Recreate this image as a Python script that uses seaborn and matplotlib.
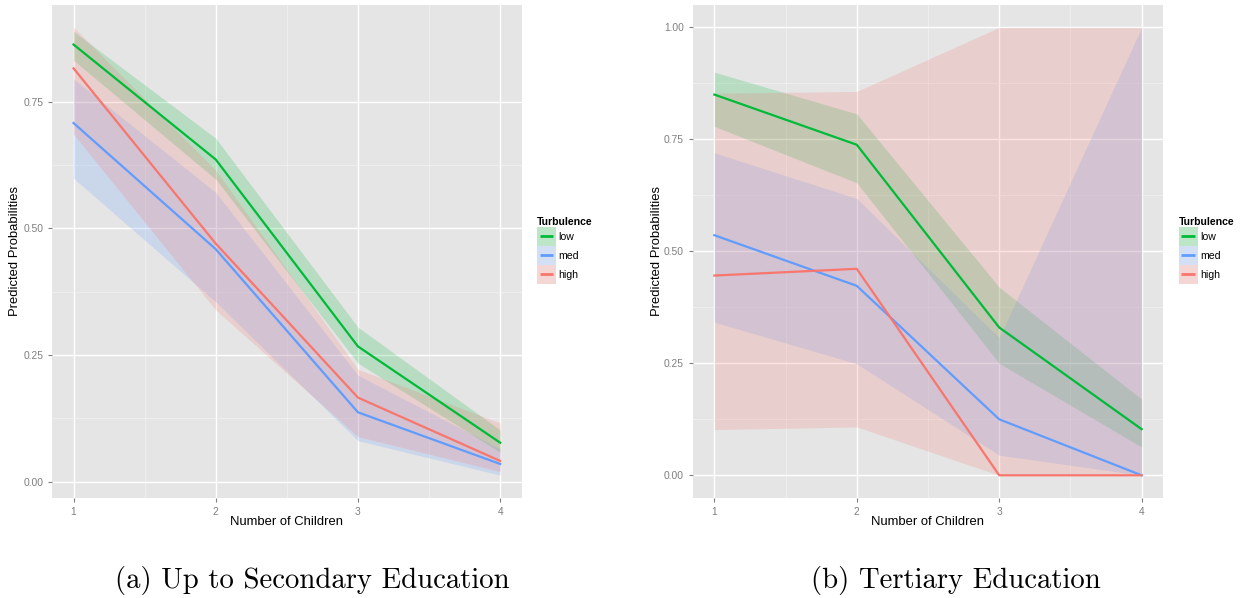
import numpy as np
import pandas as pd
import seaborn as sns
import matplotlib
matplotlib.use("Agg")
import matplotlib.pyplot as plt
from matplotlib.patches import Patch, Rectangle
from matplotlib.lines import Line2D
from matplotlib.legend_handler import HandlerBase
from matplotlib.colors import to_rgb

# ---------------- data ----------------
children = [1, 2, 3, 4]
levels = ["low", "med", "high"]

# (a) Up to Secondary Education
sec_low = [0.863, 0.636, 0.267, 0.077]
sec_low_lo = [0.832, 0.597, 0.234, 0.058]
sec_low_hi = [0.889, 0.678, 0.305, 0.102]
sec_med = [0.708, 0.459, 0.137, 0.035]
sec_med_lo = [0.599, 0.355, 0.081, 0.013]
sec_med_hi = [0.795, 0.571, 0.210, 0.065]
sec_high = [0.816, 0.470, 0.166, 0.041]
sec_high_lo = [0.686, 0.339, 0.089, 0.020]
sec_high_hi = [0.897, 0.615, 0.222, 0.116]

# (b) Tertiary Education
ter_low = [0.850, 0.738, 0.330, 0.103]
ter_low_lo = [0.779, 0.653, 0.250, 0.063]
ter_low_hi = [0.900, 0.807, 0.420, 0.170]
ter_med = [0.536, 0.423, 0.125, 0.0]
ter_med_lo = [0.342, 0.249, 0.045, 0.0]
ter_med_hi = [0.720, 0.618, 0.307, 1.0]
ter_high = [0.446, 0.461, 0.0, 0.0]
ter_high_lo = [0.102, 0.108, 0.0, 0.0]
ter_high_hi = [0.853, 0.857, 1.0, 1.0]

yticks_sec = [0.0, 0.25, 0.50, 0.75]
yticks_ter = [0.0, 0.25, 0.50, 0.75, 1.00]
captions = ["(a) Up to Secondary Education", "(b) Tertiary Education"]

palette = {"low": "#00BA38", "med": "#619CFF", "high": "#F8766D"}


def build(means, los, his):
    rows = []
    for lev, m, lo, hi in zip(levels, means, los, his):
        for x, a, b, c in zip(children, m, lo, hi):
            rows.append({"children": x, "Turbulence": lev, "prob": a, "lo": b, "hi": c})
    return pd.DataFrame(rows)


df_sec = build([sec_low, sec_med, sec_high],
               [sec_low_lo, sec_med_lo, sec_high_lo],
               [sec_low_hi, sec_med_hi, sec_high_hi])
df_ter = build([ter_low, ter_med, ter_high],
               [ter_low_lo, ter_med_lo, ter_high_lo],
               [ter_low_hi, ter_med_hi, ter_high_hi])


class KeyHandler(HandlerBase):
    """ggplot-like legend key: light filled square with a line across the middle."""

    def __init__(self, color):
        super().__init__()
        self.color = color

    def create_artists(self, legend, orig_handle, xdescent, ydescent,
                       width, height, fontsize, trans):
        rgb = np.array(to_rgb(self.color))
        bg = np.array([0.95, 0.95, 0.95])
        light = tuple(0.78 * bg + 0.22 * rgb)
        rect = Rectangle((-xdescent, -ydescent), width, height,
                         facecolor=light, edgecolor="none", transform=trans)
        yc = -ydescent + height / 2
        line = Line2D([-xdescent + 2, -xdescent + width - 2], [yc, yc],
                      color=self.color, lw=2.0, solid_capstyle="butt",
                      transform=trans)
        return [rect, line]


plt.rcParams["font.family"] = ["Liberation Sans", "DejaVu Sans"]

# ---------------- figure ----------------
W, H = 1243, 598
fig = plt.figure(figsize=(W / 100, H / 100), dpi=100)
fig.patch.set_facecolor("white")

ax_boxes = [(52.2, 5, 521.5, 497.7), (693, 5, 1163, 497.7)]
ylims = [(-0.0316, 0.941), (-0.05, 1.05)]
ytick_sets = [yticks_sec, yticks_ter]
frames = [df_sec, df_ter]

GREY50 = "#7F7F7F"

for i, (df, box) in enumerate(zip(frames, ax_boxes)):
    l, t, r, b = box
    ax = fig.add_axes([l / W, 1 - b / H, (r - l) / W, (b - t) / H])
    ax.set_facecolor("#E5E5E5")
    for s in ax.spines.values():
        s.set_visible(False)

    # ribbons
    for lev in levels:
        sub = df[df["Turbulence"] == lev]
        ax.fill_between(sub["children"], sub["lo"], sub["hi"],
                        color=palette[lev], alpha=0.2, lw=0, zorder=2)
    # lines
    sns.lineplot(data=df, x="children", y="prob", hue="Turbulence",
                 hue_order=levels, palette=palette, lw=1.6,
                 errorbar=None, legend=False, ax=ax, zorder=3)

    ax.set_xlim(0.85, 4.15)
    ax.set_ylim(*ylims[i])
    ax.set_xticks(children)
    ax.set_xticklabels([str(c) for c in children])
    yt = ytick_sets[i]
    ax.set_yticks(yt)
    ax.set_yticklabels([f"{v:.2f}" for v in yt])
    ax.set_xticks([1.5, 2.5, 3.5], minor=True)
    ax.set_yticks([(a + b) / 2 for a, b in zip(yt[:-1], yt[1:])], minor=True)

    ax.grid(which="major", color="white", lw=1.0, zorder=1)
    ax.grid(which="minor", color="#F2F2F2", lw=0.55, zorder=1)
    ax.set_axisbelow(True)
    ax.tick_params(which="major", length=3, width=0.8, color=GREY50,
                   labelcolor=GREY50, labelsize=7.4, pad=3.5)
    ax.tick_params(which="minor", length=0)

    ax.set_xlabel("Number of Children", fontsize=9.4, color="black")
    ax.set_ylabel("Predicted Probabilities", fontsize=9.4, color="black")
    ax.xaxis.label.set_va("center")
    ax.yaxis.label.set_va("center")
    ax.xaxis.set_label_coords(0.5, -0.0487)
    ax.yaxis.set_label_coords(-0.079 if i == 0 else -0.077, 0.5)

    handles = [Patch(facecolor=palette[lev]) for lev in levels]
    hmap = {h: KeyHandler(palette[lev]) for h, lev in zip(handles, levels)}
    leg = ax.legend(handles=handles, labels=levels, title="Turbulence",
                    handler_map=hmap,
                    loc="center left", bbox_to_anchor=(1.033, 0.502),
                    frameon=False, fontsize=7.6, title_fontsize=7.6,
                    handlelength=1.8, handleheight=2.38, handletextpad=0.25,
                    labelspacing=0.0, borderpad=0, borderaxespad=0)
    leg.get_title().set_fontweight("bold")
    leg._legend_box.align = "left"

    cx = (115 + 510) / 2 if i == 0 else (812 + 1100) / 2
    fig.text(cx / W, 10 / H, captions[i], ha="center", va="baseline",
             fontsize=20.7, family="cmr10")

fig.savefig("out.png", dpi=100)
